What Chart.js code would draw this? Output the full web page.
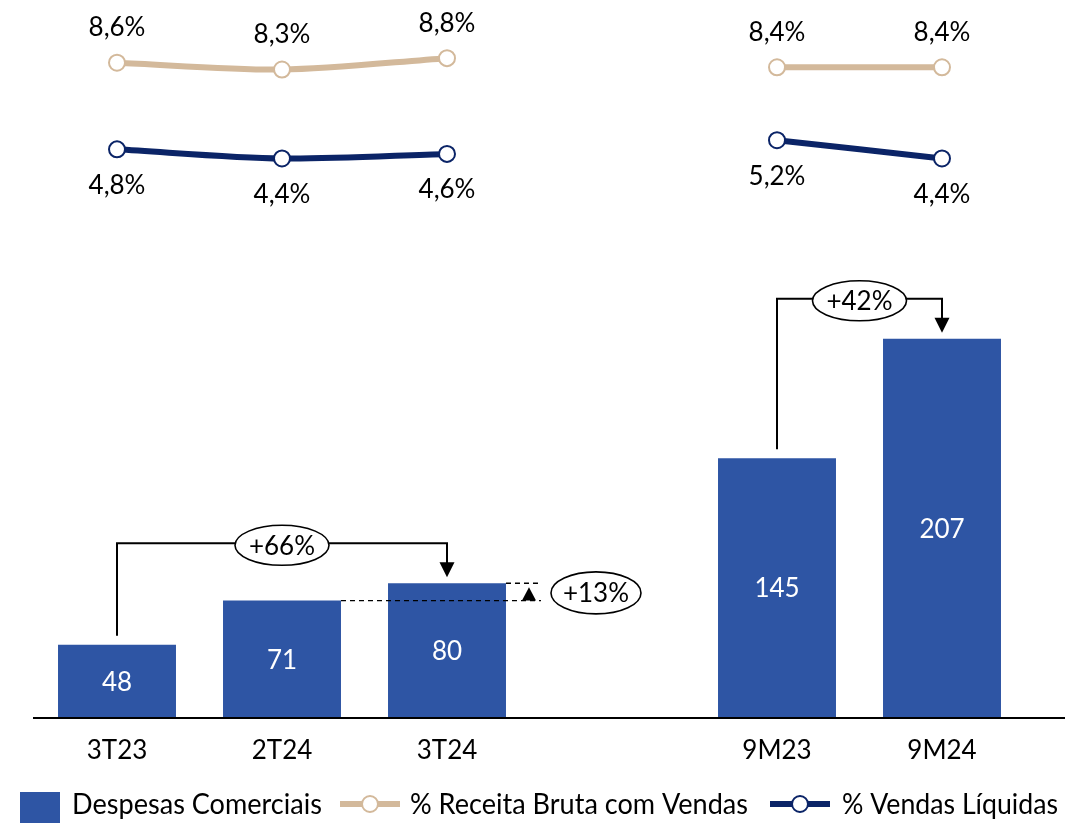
<!DOCTYPE html>
<html><head><meta charset="utf-8">
<script src="https://cdn.jsdelivr.net/npm/chart.js@4.4.1/dist/chart.umd.min.js"></script>
<style>html,body{margin:0;padding:0;background:#fff}#wrap{width:1065px;height:823px;position:relative}</style>
</head><body><div id="wrap"><canvas id="c" width="1065" height="823"></canvas></div>
<script>
// ---- data ----
const categories = ['3T23', '2T24', '3T24', '', '9M23', '9M24'];
const despesasComerciais = [48, 71, 80, null, 145, 207];
const receitaBruta = [8.6, 8.3, 8.8, null, 8.4, 8.4];
const vendasLiquidas = [4.8, 4.4, 4.6, null, 5.2, 4.4];
const seriesNames = ['Despesas Comerciais', '% Receita Bruta com Vendas', '% Vendas Líquidas'];
const growthBrackets = [{ from: 0, to: 2, label: '+66%' }, { from: 4, to: 5, label: '+42%' }];
const growthSteps = [{ from: 1, to: 2, label: '+13%' }];

const BAR = '#2E55A4', TAN = '#D3B99B', NAVY = '#0B2467';
const FONT = 'Lato, "Open Sans", sans-serif';
const fmtPct = v => v.toFixed(1).replace('.', ',') + '%';

function ellipseLabel(ctx, cx, cy, rx, ry, text) {
  ctx.save();
  ctx.beginPath(); ctx.ellipse(cx, cy, rx, ry, 0, 0, Math.PI * 2);
  ctx.fillStyle = '#fff'; ctx.fill();
  ctx.lineWidth = 1.6; ctx.strokeStyle = '#000'; ctx.stroke();
  ctx.fillStyle = '#000'; ctx.font = '26px ' + FONT;
  ctx.textAlign = 'center'; ctx.textBaseline = 'middle';
  ctx.fillText(text, cx, cy + 1);
  ctx.restore();
}
function arrowHead(ctx, x, tipY, dir, w, h) {
  ctx.beginPath();
  ctx.moveTo(x, tipY);
  ctx.lineTo(x - w / 2, tipY - dir * h);
  ctx.lineTo(x + w / 2, tipY - dir * h);
  ctx.closePath(); ctx.fillStyle = '#000'; ctx.fill();
}
function scaledText(ctx, text, x, y, width) {
  const m = ctx.measureText(text).width;
  ctx.save(); ctx.translate(x, y); ctx.scale(width / m, 1);
  ctx.fillText(text, 0, 0); ctx.restore();
}

const decor = {
  id: 'decor',
  afterDatasetsDraw(chart) {
    const ctx = chart.ctx;
    const bars = chart.getDatasetMeta(0).data;
    const l1 = chart.getDatasetMeta(1).data;
    const l2 = chart.getDatasetMeta(2).data;
    const bottom = chart.chartArea.bottom;
    ctx.save();
    // axis line
    ctx.strokeStyle = '#000'; ctx.lineWidth = 2;
    ctx.beginPath(); ctx.moveTo(33, bottom); ctx.lineTo(1065, bottom); ctx.stroke();
    // bar labels
    ctx.font = '26px ' + FONT; ctx.textAlign = 'center'; ctx.textBaseline = 'middle';
    ctx.fillStyle = '#fff';
    despesasComerciais.forEach((v, i) => {
      if (v == null) return;
      const b = bars[i];
      ctx.fillText(String(v), b.x, (b.y + bottom) / 2 + 1);
    });
    // line labels
    ctx.fillStyle = '#000';
    receitaBruta.forEach((v, i) => { if (v == null) return; ctx.fillText(fmtPct(v), l1[i].x, l1[i].y - 35); });
    vendasLiquidas.forEach((v, i) => { if (v == null) return; ctx.fillText(fmtPct(v), l2[i].x, l2[i].y + 36); });
    // brackets
    ctx.strokeStyle = '#000'; ctx.lineWidth = 2;
    growthBrackets.forEach(g => {
      const a = bars[g.from], b = bars[g.to];
      const by = b.y - 40;
      ctx.beginPath();
      ctx.moveTo(a.x, a.y - 9); ctx.lineTo(a.x, by); ctx.lineTo(b.x, by); ctx.lineTo(b.x, b.y - 18);
      ctx.stroke();
      arrowHead(ctx, b.x, b.y - 6, 1, 15, 15);
      ellipseLabel(ctx, (a.x + b.x) / 2, by + 2, 47, 20, g.label);
    });
    growthSteps.forEach(g => {
      const a = bars[g.from], b = bars[g.to];
      const xr = b.x + b.width / 2;
      const xe = xr + 35, xa = xr + 23;
      ctx.save();
      ctx.setLineDash([5, 4]); ctx.lineWidth = 1.3;
      ctx.beginPath();
      ctx.moveTo(a.x + a.width / 2, a.y); ctx.lineTo(xe, a.y);
      ctx.moveTo(xr, b.y); ctx.lineTo(xe, b.y);
      ctx.stroke(); ctx.restore();
      arrowHead(ctx, xa, b.y + 4, -1, 14, a.y - b.y - 4);
      ellipseLabel(ctx, xr + 90, (a.y + b.y) / 2 + 1, 45, 21, g.label);
    });
    // legend
    ctx.fillStyle = BAR; ctx.fillRect(20, 792, 40, 34);
    ctx.font = '28px ' + FONT; ctx.textAlign = 'left'; ctx.textBaseline = 'alphabetic'; ctx.fillStyle = '#000';
    scaledText(ctx, seriesNames[0], 72, 814, 250);
    [[TAN, 340], [NAVY, 770]].forEach(([c, x0]) => {
      ctx.strokeStyle = c; ctx.lineWidth = 6; ctx.setLineDash([]);
      ctx.beginPath(); ctx.moveTo(x0, 804); ctx.lineTo(x0 + 60, 804); ctx.stroke();
      ctx.beginPath(); ctx.arc(x0 + 30, 804, 8, 0, Math.PI * 2);
      ctx.fillStyle = '#fff'; ctx.fill(); ctx.lineWidth = 2; ctx.stroke();
    });
    ctx.fillStyle = '#000';
    scaledText(ctx, seriesNames[1], 410, 814, 338);
    scaledText(ctx, seriesNames[2], 842, 814, 216);
    ctx.restore();
  }
};

new Chart(document.getElementById('c'), {
  data: {
    labels: categories,
    datasets: [
      { type: 'bar', label: seriesNames[0], data: despesasComerciais, backgroundColor: BAR, yAxisID: 'y', barPercentage: 0.715, categoryPercentage: 1, order: 3 },
      { type: 'line', label: seriesNames[1], data: receitaBruta, borderColor: TAN, borderWidth: 6, tension: 0.3, pointRadius: 8, pointBorderWidth: 2, pointBackgroundColor: '#fff', pointBorderColor: TAN, yAxisID: 'y2', spanGaps: false, order: 1 },
      { type: 'line', label: seriesNames[2], data: vendasLiquidas, borderColor: NAVY, borderWidth: 6, tension: 0.3, pointRadius: 8, pointBorderWidth: 2, pointBackgroundColor: '#fff', pointBorderColor: NAVY, yAxisID: 'y2', spanGaps: false, order: 2 }
    ]
  },
  options: {
    responsive: false, animation: false, devicePixelRatio: 1,
    layout: { autoPadding: false, padding: { left: 34.5, right: 40.5, top: 0, bottom: 0 } },
    plugins: { legend: { display: false }, tooltip: { enabled: false } },
    scales: {
      x: {
        grid: { display: false }, border: { display: false },
        ticks: { color: '#000', font: { family: FONT, size: 26 }, padding: 9, maxRotation: 0, autoSkip: false },
        afterFit: s => { s.height = 105; }
      },
      y: { display: false, min: 10, max: 383 },
      y2: { display: false, min: -20.14, max: 11.35 }
    }
  },
  plugins: [decor]
});
</script></body></html>
